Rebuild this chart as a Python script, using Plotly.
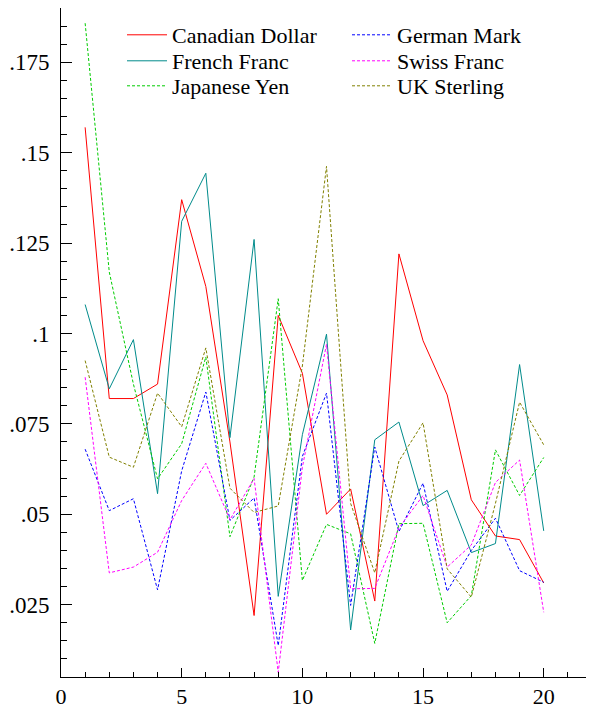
import plotly.graph_objects as go

periods = list(range(1, 21))

canadian_dollar = [0.157, 0.082, 0.082, 0.086, 0.137, 0.113, 0.070, 0.022, 0.105, 0.089,
                   0.050, 0.057, 0.026, 0.122, 0.098, 0.083, 0.054, 0.044, 0.043, 0.031]
french_franc = [0.108, 0.0847, 0.0983, 0.0557, 0.131, 0.1443, 0.0712, 0.126, 0.0273, 0.072,
                0.0998, 0.018, 0.0706, 0.0755, 0.0524, 0.0566, 0.0394, 0.0419, 0.0914, 0.0454]
japanese_yen = [0.1858, 0.117, 0.086, 0.0598, 0.0695, 0.0935, 0.0438, 0.0603, 0.1096, 0.0317,
                0.0472, 0.0446, 0.0143, 0.0474, 0.0475, 0.0200, 0.0275, 0.0678, 0.0552, 0.0657]
german_mark = [0.068, 0.051, 0.0543, 0.0291, 0.062, 0.0838, 0.0483, 0.0545, 0.0137, 0.066,
               0.0835, 0.0248, 0.0686, 0.0452, 0.0586, 0.0287, 0.040, 0.0489, 0.0344, 0.0312]
swiss_franc = [0.0879, 0.0338, 0.0354, 0.0395, 0.0538, 0.0641, 0.0485, 0.0599, 0.0063, 0.063,
               0.097, 0.0294, 0.0295, 0.0462, 0.0552, 0.0354, 0.0415, 0.0588, 0.065, 0.0229]
uk_sterling = [0.0925, 0.0658, 0.063, 0.0835, 0.0742, 0.096, 0.0572, 0.0505, 0.0523, 0.091,
               0.1462, 0.053, 0.0338, 0.0647, 0.0753, 0.0349, 0.0271, 0.053, 0.081, 0.0692]

y_tick_vals = [0.025, 0.05, 0.075, 0.1, 0.125, 0.15, 0.175]
y_tick_text = [".025", ".05", ".075", ".1", ".125", ".15", ".175"]
x_tick_vals = [0, 5, 10, 15, 20]

FONT = "Liberation Serif, Times New Roman, serif"
DOT = "3px,2px"

series = [
    ("Canadian Dollar", canadian_dollar, "#ff0000", "solid"),
    ("French Franc", french_franc, "#008b8b", "solid"),
    ("Japanese Yen", japanese_yen, "#00cc00", DOT),
    ("German Mark", german_mark, "#0000ff", DOT),
    ("Swiss Franc", swiss_franc, "#ff00ff", DOT),
    ("UK Sterling", uk_sterling, "#808000", DOT),
]

PAGE_OFF = 8  # default body margin of the html page
W, H = 594 - PAGE_OFF, 719 - PAGE_OFF
ml, mr, mt, mb = 61 - PAGE_OFF, 2, 0, 42
pw, ph = W - ml - mr, H - mt - mb

def px_x(p):
    return (p - PAGE_OFF - ml) / pw

def px_y(p):
    return 1 - (p - PAGE_OFF - mt) / ph

# legend slots in page pixels: (left, centre-y), two columns of three
legend_left = [122, 122, 122, 347, 347, 347]
legend_mid = [35, 61, 86, 35, 61, 86]

fig = go.Figure()
layout_legends = {}
for i, (name, vals, color, dash) in enumerate(series):
    key = "legend" if i == 0 else f"legend{i + 1}"
    fig.add_trace(go.Scatter(x=periods, y=vals, mode="lines", name=name,
                             line=dict(color=color, width=1, dash=dash),
                             legend=key))
    layout_legends[key] = dict(
        x=px_x(legend_left[i]), y=px_y(legend_mid[i]),
        xanchor="left", yanchor="middle",
        font=dict(family=FONT, size=22, color="black"),
        bgcolor="rgba(0,0,0,0)", borderwidth=0, itemwidth=40,
    )

fig.update_layout(
    width=W, height=H,
    margin=dict(l=ml, r=mr, t=mt, b=mb, autoexpand=False),
    paper_bgcolor="white", plot_bgcolor="white",
    font=dict(family=FONT, size=22, color="black"),
    showlegend=True,
    xaxis=dict(
        range=[0, 22], showgrid=False, zeroline=False, automargin=False,
        showline=True, linecolor="black", linewidth=1,
        tickmode="array", tickvals=x_tick_vals,
        ticks="inside", ticklen=9, tickcolor="black", tickwidth=1,
        tickfont=dict(family=FONT, size=22, color="black"),
        minor=dict(dtick=1, tick0=0, ticks="inside", ticklen=5, tickcolor="black", tickwidth=1),
    ),
    yaxis=dict(
        range=[0.005, 0.19], showgrid=False, zeroline=False, automargin=False,
        showline=True, linecolor="black", linewidth=1,
        tickmode="array", tickvals=y_tick_vals, ticktext=y_tick_text,
        ticks="inside", ticklen=11, tickcolor="black", tickwidth=1,
        tickfont=dict(family=FONT, size=23, color="black"),
        ticklabelstandoff=6,
        minor=dict(dtick=0.005, tick0=0, ticks="inside", ticklen=6, tickcolor="black", tickwidth=1),
    ),
    **layout_legends,
)

fig.write_html("out.html")
